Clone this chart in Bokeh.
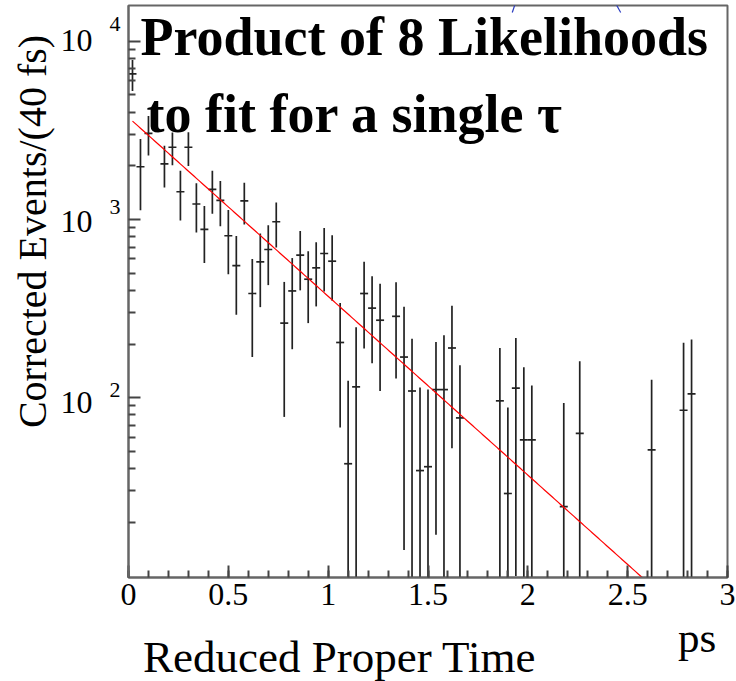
import numpy as np
from bokeh.plotting import figure
from bokeh.models import ColumnDataSource, Label, FixedTicker, Arrow, Range1d
from bokeh.embed import file_html
from bokeh.resources import INLINE

# Bin centres (ps) of the non-empty 40 fs bins
t_center = [0.02, 0.06, 0.10, 0.18, 0.22, 0.26, 0.30, 0.34, 0.38, 0.42,
            0.46, 0.50, 0.54, 0.58, 0.62, 0.66, 0.70, 0.74, 0.78, 0.82,
            0.86, 0.90, 0.94, 0.98, 1.02, 1.06, 1.10, 1.14, 1.18, 1.22,
            1.26, 1.34, 1.38, 1.42, 1.46, 1.50, 1.54, 1.58, 1.62, 1.66,
            1.86, 1.90, 1.94, 1.98, 2.02, 2.18, 2.26, 2.62, 2.78, 2.82]

# Corrected event counts per bin
events = [6550, 1975, 3040, 2050, 2540, 1430, 2540, 1220, 880, 1475,
          1280, 810, 550, 1270, 384, 578, 678, 970, 262, 397,
          630, 462, 535, 644, 583, 204, 42.6, 115, 384, 318,
          272, 286, 169, 109, 39, 41, 111, 111, 190, 77,
          96, 29, 113, 58, 58, 24.5, 63, 51, 85, 105]

# Symmetric errors on the corrected counts
errors = [1300, 850, 760, 540, 530, 445, 545, 375, 310, 400,
          365, 318, 258, 334, 215, 256, 250, 275, 184, 210,
          230, 200, 210, 250, 233, 136, 82, 133, 195, 162,
          163, 158, 155, 105, 75, 70, 94, 113, 138, 75,
          94, 59, 103, 90, 59, 69, 97, 75, 118, 107]

BIN_WIDTH = 0.04      # ps
FIT_NORM = 3730.0     # fitted counts at t = 0
FIT_TAU = 0.433       # fitted lifetime, ps
FIT_START, FIT_END = 0.02, 3.0

X_MIN, X_MAX = 0.0, 3.0
Y_MIN, Y_MAX = 9.8, 15850.0

x_ticks = [0, 0.5, 1, 1.5, 2, 2.5, 3]
x_tick_labels = ["0", "0.5", "1", "1.5", "2", "2.5", "3"]
y_decades = [100, 1000, 10000]
y_exponents = ["2", "3", "4"]

SERIF = "Liberation Serif"
FRAME_H = 681 - 5 - 104
PX_PER_DECADE = FRAME_H / np.log10(Y_MAX / Y_MIN)
FONT_HEIGHT_EM = 1.107   # ascent + descent of Liberation Serif

p = figure(width=736, height=681, title=None, y_axis_type="log",
           x_range=Range1d(X_MIN, X_MAX), y_range=Range1d(Y_MIN, Y_MAX),
           output_backend="svg", toolbar_location=None,
           min_border_left=128, min_border_right=9,
           min_border_top=5, min_border_bottom=104,
           background_fill_color="white", border_fill_color="white")
p.grid.visible = False
p.outline_line_color = "#666666"
p.outline_line_width = 2

# x axis: ROOT-like ticks pointing into the frame
xa = p.xaxis[0]
xa.ticker = FixedTicker(ticks=x_ticks, minor_ticks=[round(0.1 * i, 1) for i in range(31)])
xa.major_label_overrides = {tk: lb for tk, lb in zip(x_ticks, x_tick_labels)}
xa.major_label_text_font = SERIF
xa.major_label_text_font_size = "32px"
xa.major_label_text_color = "black"
xa.major_label_standoff = 6
xa.axis_line_color = "#666666"
xa.axis_line_width = 2
xa.major_tick_in, xa.major_tick_out = 12, 0
xa.minor_tick_in, xa.minor_tick_out = 7, 0
xa.major_tick_line_color = "#444444"
xa.minor_tick_line_color = "#444444"
xa.major_tick_line_width = 2
xa.minor_tick_line_width = 2

# y axis: decade labels are drawn separately as 10 + raised exponent
ya = p.yaxis[0]
ya.ticker = FixedTicker(ticks=y_decades,
                        minor_ticks=[m * 10 ** k for k in range(1, 5) for m in range(2, 10)])
ya.major_label_text_font_size = "1px"
ya.major_label_text_alpha = 0.0
ya.major_label_standoff = 0
ya.axis_line_color = "#666666"
ya.axis_line_width = 2
ya.major_tick_in, ya.major_tick_out = 12, 0
ya.minor_tick_in, ya.minor_tick_out = 7, 0
ya.major_tick_line_color = "#444444"
ya.minor_tick_line_color = "#444444"
ya.major_tick_line_width = 2
ya.minor_tick_line_width = 2


def side_text(side, text, x, y, dx, dy, size_px, align="left", angle=0.0,
              bold=False, line_height=1.2):
    """Text in a side panel, anchored to a data point plus a pixel offset."""
    lab = Label(x=x, y=y, x_units="data", y_units="data", x_offset=dx, y_offset=dy,
                text=text, angle=angle, text_align=align, text_baseline="middle",
                text_font=SERIF, text_font_size=f"{size_px}px", text_color="black",
                text_font_style="bold" if bold else "normal",
                text_line_height=line_height)
    p.add_layout(lab, side)


# decade labels: "10" column and the raised exponents, one line per decade
mid_decade = y_decades[1]
side_text("left", "\n".join("10" for _ in y_decades[::-1]), X_MIN, mid_decade, -36, -1.5, 32,
          align="right", line_height=PX_PER_DECADE / (32 * FONT_HEIGHT_EM))
side_text("left", "\n".join(y_exponents[::-1]), X_MIN, mid_decade, -19, 13, 22,
          align="left", line_height=PX_PER_DECADE / (22 * FONT_HEIGHT_EM))

# axis titles
side_text("left", "Corrected Events/(40 fs)", X_MIN, Y_MIN, -96, 346, 40,
          align="center", angle=np.pi / 2)
side_text("left", "ps", X_MIN, Y_MIN, 549.5, -60, 43)
side_text("below", "Reduced Proper Time", X_MIN, Y_MIN, 14.5, -79, 45)

# data points with error bars
t = np.array(t_center)
v = np.array(events, dtype=float)
e = np.array(errors, dtype=float)
src = ColumnDataSource(dict(t=t, v=v,
                            lo=np.clip(v - e, 1e-3, None), hi=v + e,
                            left=t - BIN_WIDTH / 2, right=t + BIN_WIDTH / 2))
p.segment(x0="t", y0="lo", x1="t", y1="hi", source=src,
          line_color="#222222", line_width=1.7)
p.segment(x0="left", y0="v", x1="right", y1="v", source=src,
          line_color="#222222", line_width=1.7)

# single-lifetime exponential fit
tf = np.linspace(FIT_START, FIT_END, 300)
p.line(tf, FIT_NORM * np.exp(-tf / FIT_TAU), line_color="#ff0000", line_width=1.2)

# on-plot caption
p.add_layout(Label(x=X_MIN, y=Y_MAX, x_units="data", y_units="data",
                   x_offset=12, y_offset=-31.6,
                   text="Product of  8 Likelihoods", text_align="left",
                   text_baseline="middle", text_font=SERIF, text_font_style="bold",
                   text_font_size="54px", text_color="black"))
p.add_layout(Label(x=X_MIN, y=Y_MAX, x_units="data", y_units="data",
                   x_offset=18, y_offset=-108,
                   text="to fit for a single \u03c4", text_align="left",
                   text_baseline="middle", text_font=SERIF, text_font_style="bold",
                   text_font_size="54px", text_color="black"))

# two blue connector strokes entering from above
for xs, ys, xe, ye in [(1.922, 14490, 1.944, 17100), (2.429, 17100, 2.465, 14490)]:
    p.add_layout(Arrow(start=None, end=None, x_start=xs, y_start=ys, x_end=xe, y_end=ye,
                       line_color="#2a3cc0", line_width=1.2), "above")

open("out.html", "w").write(file_html(p, INLINE))
